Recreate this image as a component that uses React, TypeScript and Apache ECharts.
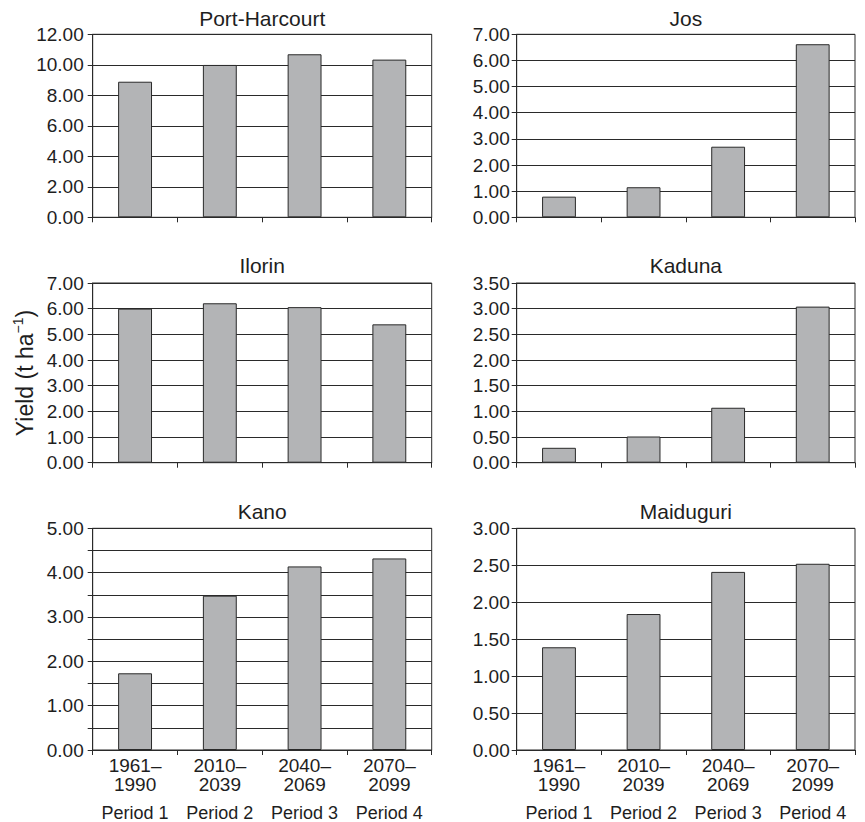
import React, { useEffect, useRef } from 'react';
import * as echarts from 'echarts';

const periodNames = ['Period 1', 'Period 2', 'Period 3', 'Period 4'];
const periodYears = ['1961–1990', '2010–2039', '2040–2069', '2070–2099'];

const siteNames = ['Port-Harcourt', 'Jos', 'Ilorin', 'Kaduna', 'Kano', 'Maiduguri'];
const portHarcourt = [8.89, 9.99, 10.69, 10.34];
const jos = [0.79, 1.15, 2.7, 6.62];
const ilorin = [6.0, 6.21, 6.06, 5.39];
const kaduna = [0.29, 0.51, 1.07, 3.04];
const kano = [1.73, 3.48, 4.14, 4.32];
const maiduguri = [1.39, 1.84, 2.41, 2.52];
const siteValues = [portHarcourt, jos, ilorin, kaduna, kano, maiduguri];

const yMax = [12, 7, 7, 3.5, 5, 3];
const yInterval = [2, 1, 1, 0.5, 0.5, 0.5];
const yLabelStep = [2, 1, 1, 0.5, 1, 0.5];

const yAxisTitle = 'Yield (t ha';
const yAxisSup = '−1';

const FONT = '"Liberation Sans", Arial, Helvetica, sans-serif';
const TEXT = '#1e1e1e';
const LINE = '#2a2a2a';

const colLeft = [92.7, 516.7];
const colWidth = [339, 338.3];
const rowTop = [34.3, 283, 528.3];
const rowHeight = [183, 179.7, 221.7];
const titleY = [18.5, 265.5, 511.7];
const labelMargin = [9, 7];

export default function App() {
  const ref = useRef<HTMLDivElement>(null);

  useEffect(() => {
    if (!ref.current) return;
    const chart = echarts.init(ref.current, null, { renderer: 'svg' });

    const grids: any[] = [];
    const xAxes: any[] = [];
    const yAxes: any[] = [];
    const series: any[] = [];
    const graphics: any[] = [];

    siteNames.forEach((name, i) => {
      const col = i % 2;
      const row = Math.floor(i / 2);
      const isBottom = row === 2;
      grids.push({
        left: colLeft[col],
        top: rowTop[row],
        width: colWidth[col],
        height: rowHeight[row],
        show: true,
        borderColor: LINE,
        borderWidth: 1,
        backgroundColor: 'transparent',
        containLabel: false,
      });
      xAxes.push({
        type: 'category',
        gridIndex: i,
        data: periodNames,
        boundaryGap: true,
        axisLine: { show: true, lineStyle: { color: LINE, width: 1 } },
        axisTick: { show: true, length: 5, alignWithLabel: false, lineStyle: { color: LINE } },
        axisLabel: {
          show: isBottom,
          interval: 0,
          margin: 6,
          color: TEXT,
          fontFamily: FONT,
          formatter: (_v: string, idx: number) => {
            const parts = periodYears[idx].split('–');
            return `{a|${parts[0]}–}\n{a|${parts[1]}}\n{b|${periodNames[idx]}}`;
          },
          rich: {
            a: { fontSize: 19, lineHeight: 19, fontFamily: FONT, color: TEXT, align: 'center' },
            b: { fontSize: 18, lineHeight: 20, padding: [18, 0, 0, 0], fontFamily: FONT, color: TEXT, align: 'center' },
          },
        },
        splitLine: { show: false },
      });
      const step = yLabelStep[i];
      yAxes.push({
        type: 'value',
        gridIndex: i,
        min: 0,
        max: yMax[i],
        interval: yInterval[i],
        axisLine: { show: true, lineStyle: { color: LINE, width: 1 } },
        axisTick: { show: true, length: 5, inside: false, lineStyle: { color: LINE } },
        axisLabel: {
          margin: labelMargin[col],
          fontSize: 19,
          fontFamily: FONT,
          color: TEXT,
          formatter: (v: number) => {
            const r = v / step;
            return Math.abs(r - Math.round(r)) < 1e-6 ? v.toFixed(2) : '';
          },
        },
        splitLine: { show: true, lineStyle: { color: LINE, width: 1 } },
      });
      series.push({
        type: 'bar',
        xAxisIndex: i,
        yAxisIndex: i,
        data: siteValues[i],
        barWidth: '40%',
        itemStyle: { color: '#b3b4b6', borderColor: LINE, borderWidth: 1 },
        silent: true,
      });
      graphics.push({
        type: 'text',
        x: colLeft[col] + colWidth[col] / 2,
        y: titleY[row],
        style: {
          text: name,
          fontSize: 21,
          fontWeight: 'normal',
          fontFamily: FONT,
          fill: TEXT,
          align: 'center',
          verticalAlign: 'middle',
        },
      });
    });

    graphics.push({
      type: 'text',
      x: 25,
      y: 373,
      rotation: Math.PI / 2,
      style: {
        text: `{m|${yAxisTitle}}{s|${yAxisSup}}{m|)}`,
        align: 'center',
        verticalAlign: 'middle',
        fill: TEXT,
        rich: {
          m: { fontSize: 23, lineHeight: 28, fontFamily: FONT, fontWeight: 'normal', fill: TEXT },
          s: { fontSize: 14, lineHeight: 15, fontFamily: FONT, fontWeight: 'normal', fill: TEXT, verticalAlign: 'top' },
        },
      },
    });

    chart.setOption({
      animation: false,
      backgroundColor: '#ffffff',
      grid: grids,
      xAxis: xAxes,
      yAxis: yAxes,
      series,
      graphic: graphics,
    });

    return () => chart.dispose();
  }, []);

  return (
    <div
      ref={ref}
      style={{ position: 'fixed', left: 0, top: 0, width: 865, height: 822, background: '#fff' }}
    />
  );
}
